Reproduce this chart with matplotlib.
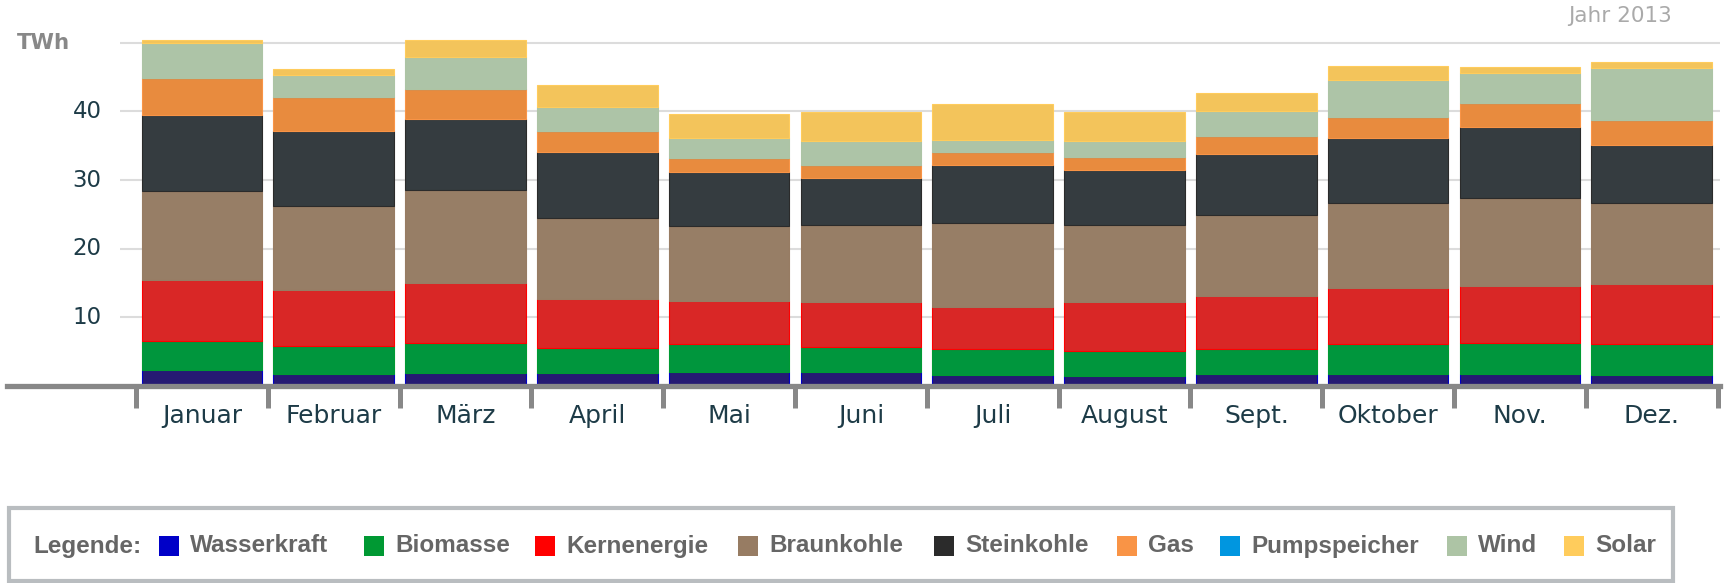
import matplotlib
matplotlib.use("Agg")
import matplotlib.pyplot as plt
import matplotlib.patches as patches
import numpy as np

# Monatswerte 2013 in TWh
months = ["Januar", "Februar", "März", "April", "Mai", "Juni",
          "Juli", "August", "Sept.", "Oktober", "Nov.", "Dez."]

wasserkraft = [2.28, 1.70, 1.94, 1.84, 1.99, 1.99, 1.65, 1.41, 1.70, 1.70, 1.70, 1.60]
biomasse = [4.32, 4.13, 4.27, 3.74, 4.08, 3.69, 3.74, 3.69, 3.74, 4.42, 4.56, 4.57]
kernenergie = [8.79, 8.10, 8.74, 7.04, 6.26, 6.50, 6.16, 7.08, 7.67, 8.10, 8.30, 8.64]
braunkohle = [13.0, 12.33, 13.59, 11.85, 10.92, 11.27, 12.14, 11.32, 11.79, 12.43, 12.87, 11.84]
steinkohle = [11.07, 10.87, 10.34, 9.66, 7.87, 6.79, 8.49, 8.00, 8.93, 9.47, 10.24, 8.45]
gas = [5.48, 4.95, 4.42, 3.10, 2.04, 1.90, 1.99, 1.80, 2.67, 3.05, 3.64, 3.73]
pumpspeicher = [0, 0, 0, 0, 0, 0, 0, 0, 0, 0, 0, 0]
wind = [5.00, 3.30, 4.70, 3.40, 2.96, 3.49, 1.70, 2.33, 3.50, 5.49, 4.32, 7.53]
solar = [0.53, 0.78, 2.49, 3.30, 3.54, 4.32, 5.25, 4.32, 2.72, 2.04, 0.92, 0.78]

series_names = ["Wasserkraft", "Biomasse", "Kernenergie", "Braunkohle",
                "Steinkohle", "Gas", "Pumpspeicher", "Wind", "Solar"]
series_values = [wasserkraft, biomasse, kernenergie, braunkohle,
                 steinkohle, gas, pumpspeicher, wind, solar]
bar_colors = ["#261a73", "#00963d", "#d92726", "#977e66",
              "#353c40", "#e88b3e", "#0096e0", "#adc4a7", "#f3c45b"]
legend_colors = ["#0000c8", "#009933", "#ff0000", "#977c63",
                 "#2b2b2b", "#f99446", "#0096e0", "#adc4a5", "#ffcc5c"]

W, H = 1733, 583
fig = plt.figure(figsize=(W / 100, H / 100), dpi=100)

def fx(px):
    return px / W

def fy(py):
    # pixel from top -> figure fraction
    return (H - py) / H

ax = fig.add_axes([fx(7), fy(386), fx(1720 - 7), (386 - 36) / H])
for s in ax.spines.values():
    s.set_visible(False)

x = np.arange(len(months))
bottom = np.zeros(len(months))
for vals, c, ec in zip(series_values, bar_colors, legend_colors):
    vals = np.array(vals)
    ax.bar(x, vals, bottom=bottom, width=0.914, color=c, edgecolor=ec,
           linewidth=0.8, zorder=2)
    bottom += vals

ax.set_xlim(-1.479, 11.518)
ax.set_ylim(0, 51)

# gridlines
ax.hlines([10, 20, 30, 40, 50], -0.62, 11.518, color="#dcdcdc", lw=1.5, zorder=0)
ax.axhline(0, color="#888888", lw=3.8, zorder=3, clip_on=False)

ax.set_yticks([])
for v in [10, 20, 30, 40]:
    ax.text(-0.76, v, str(v), ha="right", va="center", fontsize=16.5,
            color="#1d3b47")

ax.set_xticks(np.arange(-0.5, 12, 1))
ax.set_xticklabels([])
ax.tick_params(axis="x", which="major", length=15.5, width=3.6, color="#888888",
               direction="out")
ax.set_xticks(x, minor=True)
ax.set_xticklabels(months, minor=True, fontsize=18, color="#1d3b47")
ax.tick_params(axis="x", which="minor", length=0, pad=13)

fig.text(fx(17), fy(43), "TWh", fontsize=15.3, fontweight="bold",
         color="#888888", va="center", ha="left")
fig.text(fx(1672), fy(16), "Jahr 2013", fontsize=15.5, color="#aaaaaa",
         va="center", ha="right")

# legend box
box = patches.Rectangle((fx(9), fy(581)), fx(1673 - 9), (581 - 508) / H,
                        transform=fig.transFigure, facecolor="white",
                        edgecolor="#b9bdc0", lw=3, clip_on=False)
fig.patches.append(box)

leg_y = fy(546)
fig.text(fx(33), leg_y, "Legende:", fontsize=17.5, fontweight="bold",
         color="#666666", va="center", ha="left", family="Liberation Sans")
sq_left = [159, 364, 535, 738, 934, 1117, 1220, 1447, 1564]
for name, c, sx in zip(series_names, legend_colors, sq_left):
    sq = patches.Rectangle((fx(sx), fy(556)), fx(20), 20 / H,
                           transform=fig.transFigure, facecolor=c,
                           edgecolor="none")
    fig.patches.append(sq)
    fig.text(fx(sx + 31), leg_y, name, fontsize=17.5, fontweight="bold",
             color="#666666", va="center", ha="left", family="Liberation Sans")

fig.savefig("out.png", dpi=100)
